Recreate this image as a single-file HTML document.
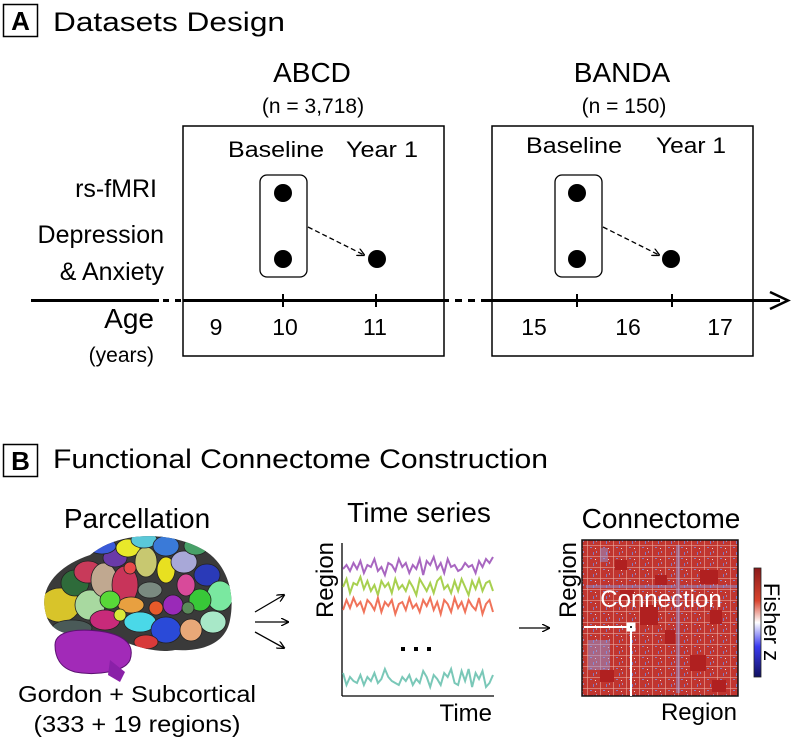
<!DOCTYPE html>
<html><head><meta charset="utf-8"><style>
html,body{margin:0;padding:0;background:#fff}
svg{display:block;font-family:"Liberation Sans",Arial,sans-serif}
</style></head><body>
<svg id="fig" width="791" height="741" viewBox="0 0 791 741">
<defs>
<marker id="ah" markerWidth="8" markerHeight="8" refX="7" refY="4" orient="auto" markerUnits="userSpaceOnUse"><path d="M0,0 L8,4 L0,8" fill="none" stroke="#000" stroke-width="1.3"/></marker>
<clipPath id="brainclip"><path d="M45,610 C40,585 60,565 90,555 C120,530 170,532 200,548 C225,560 236,590 230,620 C226,642 205,652 175,650 C150,655 120,640 100,632 C80,635 50,640 45,610 Z"/></clipPath>
<linearGradient id="cbar" x1="0" y1="0" x2="0" y2="1"><stop offset="0" stop-color="#8b1a1a"/><stop offset="0.3" stop-color="#d9442e"/><stop offset="0.5" stop-color="#ffffff"/><stop offset="0.72" stop-color="#3b3bf0"/><stop offset="1" stop-color="#101060"/></linearGradient>
<pattern id="cpat" width="13" height="11" patternUnits="userSpaceOnUse"><rect width="13" height="11" fill="#c0352f"/><rect x="2" y="0" width="1" height="11" fill="#e79a8f" opacity="0.7"/><rect x="0" y="6" width="13" height="1" fill="#e8a79c" opacity="0.6"/><rect x="8" y="2" width="1" height="3" fill="#6f86e8" opacity="0.8"/><rect x="5" y="8" width="2" height="1" fill="#7d8fe6" opacity="0.8"/><rect x="10" y="9" width="1" height="1" fill="#f4d6d0"/><rect x="11" y="1" width="1" height="2" fill="#9aa8ee" opacity="0.7"/></pattern>
</defs>

<!-- Panel A -->
<g>
<rect x="3.5" y="4.5" width="34" height="32" fill="none" stroke="#000" stroke-width="1.5"/>
<text x="20.5" y="30" font-size="26" font-weight="bold" text-anchor="middle">A</text>
<text x="53" y="31" font-size="27" textLength="232" lengthAdjust="spacingAndGlyphs">Datasets Design</text>

<text x="312" y="82" font-size="28" text-anchor="middle">ABCD</text>
<text x="313" y="113" font-size="21" text-anchor="middle">(n = 3,718)</text>
<text x="622" y="82" font-size="28" text-anchor="middle">BANDA</text>
<text x="624" y="113" font-size="21" text-anchor="middle">(n = 150)</text>

<rect x="183" y="126" width="261" height="230" fill="none" stroke="#000" stroke-width="1.5"/>
<rect x="492" y="126" width="261" height="230" fill="none" stroke="#000" stroke-width="1.5"/>

<text x="228" y="157" font-size="22" textLength="96" lengthAdjust="spacingAndGlyphs">Baseline</text>
<text x="346" y="157" font-size="22" textLength="72" lengthAdjust="spacingAndGlyphs">Year 1</text>
<text x="526" y="153" font-size="22" textLength="96" lengthAdjust="spacingAndGlyphs">Baseline</text>
<text x="656" y="153" font-size="22" textLength="70" lengthAdjust="spacingAndGlyphs">Year 1</text>

<text x="157" y="197" font-size="25" text-anchor="end">rs-fMRI</text>
<text x="164" y="243" font-size="25" text-anchor="end">Depression</text>
<text x="164" y="280" font-size="25" text-anchor="end">&amp; Anxiety</text>

<rect x="260" y="175" width="47" height="102" rx="7" fill="none" stroke="#000" stroke-width="1.3"/>
<circle cx="283" cy="193" r="9" fill="#000"/>
<circle cx="283" cy="259" r="9" fill="#000"/>
<circle cx="377" cy="259" r="9" fill="#000"/>
<line x1="308" y1="227" x2="364" y2="255" stroke="#000" stroke-width="1.3" stroke-dasharray="5,3" marker-end="url(#ah)"/>

<rect x="555" y="175" width="47" height="102" rx="7" fill="none" stroke="#000" stroke-width="1.3"/>
<circle cx="577" cy="193" r="9" fill="#000"/>
<circle cx="577" cy="259" r="9" fill="#000"/>
<circle cx="671" cy="259" r="9" fill="#000"/>
<line x1="603" y1="227" x2="659" y2="255" stroke="#000" stroke-width="1.3" stroke-dasharray="5,3" marker-end="url(#ah)"/>

<g stroke="#000" stroke-width="3">
<line x1="31" y1="300.5" x2="159" y2="300.5"/>
<line x1="163" y1="300.5" x2="183" y2="300.5" stroke-dasharray="6,6"/>
<line x1="183" y1="300.5" x2="449" y2="300.5"/>
<line x1="455" y1="300.5" x2="488" y2="300.5" stroke-dasharray="7,6"/>
<line x1="488" y1="300.5" x2="780" y2="300.5"/>
<line x1="283" y1="294" x2="283" y2="307" stroke-width="2"/>
<line x1="376" y1="294" x2="376" y2="307" stroke-width="2"/>
<line x1="577" y1="294" x2="577" y2="307" stroke-width="2"/>
<line x1="672" y1="294" x2="672" y2="307" stroke-width="2"/>
<path d="M770,292 L788,300.5 L770,309" fill="none" stroke-width="2.5"/>
</g>
<g font-size="23" text-anchor="middle">
<text x="216" y="335">9</text><text x="285" y="335">10</text><text x="375" y="335">11</text>
<text x="534" y="335">15</text><text x="628" y="335">16</text><text x="720" y="335">17</text>
</g>
<text x="154" y="328" font-size="28" text-anchor="end">Age</text>
<text x="154" y="362" font-size="21" text-anchor="end">(years)</text>
</g>

<!-- Panel B -->
<g>
<rect x="3.5" y="444.5" width="34" height="32" fill="none" stroke="#000" stroke-width="1.5"/>
<text x="20.5" y="470" font-size="26" font-weight="bold" text-anchor="middle">B</text>
<text x="53" y="468" font-size="27" textLength="495" lengthAdjust="spacingAndGlyphs">Functional Connectome Construction</text>

<text x="137" y="528" font-size="28" text-anchor="middle">Parcellation</text>
<g>
<path d="M45,610 C40,585 60,565 90,555 C120,530 170,532 200,548 C225,560 236,590 230,620 C226,642 205,652 175,650 C150,655 120,640 100,632 C80,635 50,640 45,610 Z" fill="#3a3a3a"/>
<g clip-path="url(#brainclip)" stroke="#222" stroke-width="0.8">
<ellipse cx="60" cy="605" rx="20" ry="17" fill="#d8c42a"/>
<ellipse cx="75" cy="583" rx="14" ry="13" fill="#2e6b3a"/>
<ellipse cx="90" cy="605" rx="15" ry="15" fill="#a8d9a0"/>
<ellipse cx="88" cy="572" rx="14" ry="11" fill="#c83a5a"/>
<ellipse cx="104" cy="580" rx="13" ry="17" fill="#c0a890"/>
<ellipse cx="125" cy="585" rx="13" ry="19" fill="#c8345a"/>
<ellipse cx="115" cy="558" rx="12" ry="9" fill="#6a3aa8"/>
<ellipse cx="102" cy="546" rx="14" ry="8" fill="#3a5ad8"/>
<ellipse cx="128" cy="548" rx="12" ry="9" fill="#e8e82a"/>
<ellipse cx="146" cy="562" rx="11" ry="15" fill="#c8c870"/>
<ellipse cx="144" cy="540" rx="13" ry="8" fill="#5ac8d8"/>
<ellipse cx="166" cy="546" rx="13" ry="10" fill="#3a7ad8"/>
<ellipse cx="166" cy="570" rx="9" ry="13" fill="#e8e020"/>
<ellipse cx="184" cy="562" rx="13" ry="11" fill="#a8a8d8"/>
<ellipse cx="196" cy="546" rx="12" ry="9" fill="#48a068"/>
<ellipse cx="207" cy="575" rx="13" ry="11" fill="#2a3ab8"/>
<ellipse cx="220" cy="596" rx="13" ry="15" fill="#7ae8a0"/>
<ellipse cx="200" cy="600" rx="11" ry="11" fill="#38c838"/>
<ellipse cx="213" cy="622" rx="13" ry="11" fill="#a8e8c8"/>
<ellipse cx="186" cy="585" rx="9" ry="11" fill="#d84a9a"/>
<ellipse cx="150" cy="590" rx="12" ry="8" fill="#7a8a80"/>
<ellipse cx="131" cy="605" rx="13" ry="8" fill="#e8a040"/>
<ellipse cx="110" cy="600" rx="10" ry="9" fill="#58d838"/>
<ellipse cx="105" cy="620" rx="15" ry="10" fill="#c82a7a"/>
<ellipse cx="140" cy="622" rx="16" ry="10" fill="#4ad8e8"/>
<ellipse cx="166" cy="630" rx="15" ry="13" fill="#2a4ad8"/>
<ellipse cx="146" cy="642" rx="12" ry="7" fill="#d83a3a"/>
<ellipse cx="173" cy="605" rx="10" ry="10" fill="#9a2ab8"/>
<ellipse cx="191" cy="630" rx="11" ry="11" fill="#e8a878"/>
<ellipse cx="72" cy="628" rx="20" ry="8" fill="#4a5a58"/>
<ellipse cx="156" cy="608" rx="7" ry="7" fill="#e85a2a"/>
<ellipse cx="120" cy="615" rx="6" ry="6" fill="#d8e838"/>
<ellipse cx="188" cy="608" rx="6" ry="6" fill="#5a8a5a"/>
<ellipse cx="130" cy="568" rx="6" ry="6" fill="#e84a4a"/>
</g>
<path d="M55,645 C55,630 80,628 105,632 C125,636 135,645 130,660 C125,672 95,676 75,672 C60,668 55,657 55,645 Z" fill="#a22ab8" stroke="#5a1070" stroke-width="1"/>
<path d="M110,660 L125,672 L120,682 L108,675 Z" fill="#8a20a8"/>
</g>
<text x="137" y="702" font-size="23" text-anchor="middle" textLength="238" lengthAdjust="spacingAndGlyphs">Gordon + Subcortical</text>
<text x="137" y="732" font-size="23" text-anchor="middle" textLength="207" lengthAdjust="spacingAndGlyphs">(333 + 19 regions)</text>

<g stroke="#000" stroke-width="1.3">
<line x1="255" y1="612" x2="284" y2="595" marker-end="url(#ah)"/>
<line x1="255" y1="622" x2="288" y2="622" marker-end="url(#ah)"/>
<line x1="255" y1="632" x2="284" y2="648" marker-end="url(#ah)"/>
</g>

<text x="419" y="522" font-size="28" text-anchor="middle">Time series</text>
<g id="ts">
<line x1="342" y1="543" x2="342" y2="696" stroke="#000" stroke-width="1.3"/>
<line x1="342" y1="696" x2="494" y2="696" stroke="#000" stroke-width="1.3"/>
<text transform="translate(333,580) rotate(-90)" font-size="24" text-anchor="middle">Region</text>
<text x="492" y="721" font-size="24" text-anchor="end">Time</text>
<g fill="#000">
<rect x="401" y="647" width="4" height="4"/><rect x="414" y="647" width="4" height="4"/><rect x="427" y="647" width="4" height="4"/>
</g>
</g>
<line x1="519" y1="628" x2="549" y2="628" stroke="#000" stroke-width="1.3" marker-end="url(#ah)"/>

<text x="661" y="528" font-size="28" text-anchor="middle">Connectome</text>
<g>
<rect x="582" y="540" width="156" height="156" fill="url(#cpat)" stroke="#111" stroke-width="1.5"/>
<g fill="#b02020">
<rect x="640" y="605" width="18" height="20"/><rect x="690" y="655" width="16" height="16"/>
<rect x="615" y="560" width="12" height="10"/><rect x="700" y="570" width="18" height="14"/>
<rect x="665" y="630" width="10" height="14"/><rect x="600" y="670" width="14" height="12"/>
<rect x="712" y="680" width="14" height="12"/><rect x="655" y="575" width="12" height="10"/>
<rect x="620" y="590" width="14" height="10"/><rect x="710" y="610" width="12" height="14"/>
</g>
<g fill="#8f9fe8" opacity="0.45">
<rect x="588" y="640" width="22" height="30"/><rect x="600" y="548" width="8" height="14"/>
<rect x="676" y="545" width="4" height="148"/><rect x="586" y="585" width="150" height="3"/>
</g>
<text x="661" y="607" font-size="24" fill="#fff" text-anchor="middle">Connection</text>
<line x1="584" y1="627" x2="631" y2="627" stroke="#fff" stroke-width="2"/>
<line x1="631" y1="627" x2="631" y2="696" stroke="#fff" stroke-width="2"/>
<rect x="627" y="623" width="8" height="8" fill="#fff" stroke="#fff"/>
<rect x="630" y="626" width="2" height="2" fill="#333"/>
</g>
<text transform="translate(576,580) rotate(-90)" font-size="24" text-anchor="middle">Region</text>
<text x="737" y="720" font-size="24" text-anchor="end">Region</text>
<rect x="754" y="568" width="7" height="109" fill="url(#cbar)" stroke="#222" stroke-width="0.8"/>
<text transform="translate(764,622) rotate(90)" font-size="22" text-anchor="middle">Fisher z</text>
</g>
</svg>
<script>
// Time-series values (relative amplitude 0..1, 0 = bottom of band)
const purpleSeries=[0.4,0.6,0.3,0.7,0.4,0.8,0.2,0.6,0.5,0.9,0.3,0.5,0.1,0.7,0.6,0.3,0.9,0.5,0.7,0.2,0.6,0.4,0.9,0.1,0.8,0.6,1.0,0.4,0.7,0.2,0.9,0.5,0.6,0.3,0.4,0.7,0.5,0.6,0.2,0.8,0.5,0.9,0.7,1.0];
const greenSeries=[0.5,0.9,0.2,0.7,0.6,1.0,0.4,0.8,0.3,0.6,0.1,0.8,0.5,0.7,0.2,0.9,0.4,0.6,0.3,0.8,0.5,0.1,0.9,0.6,0.3,0.7,0.2,0.8,1.0,0.4,0.6,0.2,0.8,0.3,0.9,0.5,0.1,0.8,0.4,0.9,0.3,0.7,0.8,0.3];
const redSeries=[0.3,0.8,0.4,0.9,0.5,0.7,0.2,0.8,0.6,0.3,0.9,0.2,0.7,0.5,0.8,0.1,0.6,0.7,0.3,0.9,0.4,0.6,0.2,0.8,0.5,0.9,0.3,0.7,0.1,0.8,0.6,0.2,0.9,0.4,0.7,0.2,0.8,0.5,0.3,0.9,0.1,0.6,0.8,0.2];
const tealSeries=[0.8,0.2,0.6,0.4,0.3,0.7,0.2,0.6,0.4,0.8,0.3,0.5,1.0,0.6,0.4,0.3,0.2,0.6,0.4,0.7,0.2,0.5,0.3,0.9,0.6,0.1,0.7,0.5,0.2,0.8,0.6,1.0,0.3,0.2,0.9,0.4,1.0,0.1,0.8,0.5,0.9,0.1,0.3,0.7];
const seriesColors=["#a866c0","#a8d050","#f0735a","#7ac8b8"];
const bandTops=[557,577,596,669];
const bandHeight=20;
const ts=document.getElementById('ts');
const allSeries=[purpleSeries,greenSeries,redSeries,tealSeries];
const seriesNames=['purple','green','red','teal'];
const xScale=(i,n)=>343+i*(493-343)/(n-1);
const yScale=(v,k)=>bandTops[k]+bandHeight*(1-v);
allSeries.forEach((s,k)=>{
  const p=document.createElementNS('http://www.w3.org/2000/svg','polyline');
  p.setAttribute('points',s.map((v,i)=>xScale(i,s.length).toFixed(1)+','+yScale(v,k).toFixed(1)).join(' '));
  p.setAttribute('fill','none');
  p.setAttribute('stroke',seriesColors[k]);
  p.setAttribute('stroke-width','2');
  
  
  ts.appendChild(p);
});
</script>
</body></html>
